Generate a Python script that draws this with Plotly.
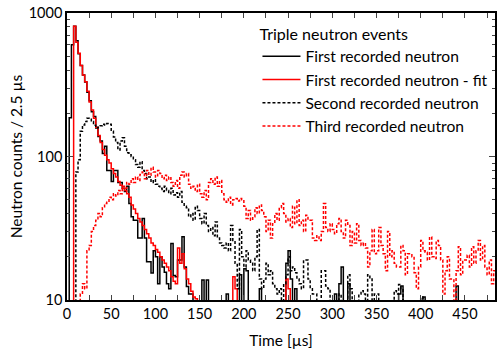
import plotly.graph_objects as go

BIN = 2.5

first_neutron = [
    1, 186, 600, 810, 640, 520, 430, 370, 330, 280,
    245, 205, 190, 158, 138, 128, 105, 118, 80, 80,
    67, 80, 80, 66, 66, 60, 57, 62, 47, 38,
    36, 36, 27, 27, 37, 27, 18.5, 18.5, 15.4, 22,
    20, 13, 20, 17, 15.6, 13, 12, 24.8, 14.8, 14.5,
    19, 19, 27.6, 17, 12.4, 11, 11, 1, 1, 1,
    1, 13.8, 1, 13.8, 1, 1, 1, 1, 1, 1,
    1, 1, 11, 1, 1, 1, 1, 1, 15, 1,
    16.5, 16, 1, 1, 1, 1, 1, 12, 1, 1,
    1, 1, 1, 1, 1, 1, 1, 1, 1, 18,
    22, 14, 1, 12, 1, 1, 1, 1, 1, 1,
    1, 1, 1, 1, 1, 1, 1, 1, 1, 1,
    1, 11, 1, 13, 17, 1, 1, 13, 1, 1,
    1, 1, 1, 1, 1, 1, 1, 1, 1, 1,
    1, 1, 1, 1, 1, 1, 1, 1, 1, 1,
    11, 12.5, 1, 1, 1, 1, 1, 1, 1, 1,
    1, 10.5, 1, 1, 1, 1, 1, 1, 1, 1,
    1, 1, 1, 1, 1, 1, 12.5, 1, 1, 1,
    1, 1, 1, 1, 1, 1, 1, 1, 1, 1,
    1, 1, 1, 1,
]

first_fit = [
    1, 1, 1, 810, 625, 524, 430, 370, 332, 285,
    240, 211, 185, 160, 140, 125, 112, 102, 95, 90,
    82, 76, 72, 67, 63, 60, 58, 55, 52, 46,
    43, 40, 37, 35, 33, 31, 29, 27, 25, 24,
    22.5, 21.5, 20, 19, 18, 17, 16, 14.5, 13.5, 13,
    23, 18, 21, 16.5, 14, 13, 11.5, 10.5, 10.2, 1,
    1, 1, 1, 1, 1, 1, 1, 1, 1, 1,
    1, 1, 1, 1, 1, 14.5, 12, 1, 1, 1,
    1, 1, 1, 1, 1, 1, 1, 1, 1, 1,
    1, 1, 1, 1, 1, 1, 1, 1, 1, 14,
    12, 1, 1, 1, 1, 1, 1, 1, 1, 1,
    1, 1, 1, 1, 1, 1, 1, 1, 1, 1,
    1, 1, 1, 1, 1, 1, 1, 1, 1, 1,
    1, 1, 1, 1, 1, 1, 1, 1, 1, 1,
    1, 1, 1, 1, 1, 1, 1, 1, 1, 1,
    1, 1, 1, 1, 1, 1, 1, 1, 1, 1,
    1, 1, 1, 1, 1, 1, 1, 1, 1, 1,
    1, 1, 1, 1, 1, 1, 1, 1, 1, 1,
    1, 1, 1, 1, 1, 1, 1, 1, 1, 1,
    1, 1, 1, 1,
]

second_neutron = [
    1, 1, 1, 1, 78, 95, 150, 166, 175, 185,
    182, 175, 165, 158, 160, 164, 168, 166, 170, 168,
    150, 137, 125, 111, 128, 135, 118, 106, 103, 100,
    95, 88, 84, 92, 80, 76, 70, 72, 66, 69,
    64, 62, 60, 57, 62, 58, 55, 60, 54, 56,
    52, 57, 48, 45, 44, 38, 40, 36, 45, 42,
    37, 34, 40, 33, 30, 32, 28, 35, 27, 25,
    24, 23, 25, 22, 33, 26, 18, 12, 31, 20,
    17, 22, 19, 18, 16, 20, 31, 14, 12, 14,
    18, 15, 16, 13, 12, 11, 12, 1, 13, 15,
    20, 16, 17, 15.5, 14, 13, 12, 19, 19, 14,
    12, 11, 11, 1, 1, 16, 16, 12.5, 12, 1,
    1, 1, 1, 11, 1, 1, 1, 15, 12, 1,
    1, 1, 11, 11.6, 11, 1, 15, 14, 1, 11,
    11, 1, 1, 1, 1, 1, 1, 1, 11.6, 11,
    12.8, 12, 1, 1, 1, 1, 1, 1, 1, 1,
    10.5, 1, 1, 1, 1, 1, 1, 1, 1, 1,
    1, 1, 1, 1, 1, 1, 1, 1, 1, 1,
    1, 1, 1, 1, 1, 1, 1, 1, 1, 1,
    1, 1, 1, 1,
]

third_neutron = [
    1, 1, 1, 1, 1, 1, 11, 13, 12, 22,
    24, 30, 33, 36, 40, 38, 44, 47, 48, 52,
    50, 55, 53, 58, 55, 62, 60, 66, 64, 70,
    66, 72, 68, 75, 78, 70, 80, 74, 84, 78,
    72, 80, 76, 70, 74, 68, 72, 66, 62, 68,
    60, 74, 78, 72, 76, 64, 60, 62, 57, 64,
    55, 52, 58, 50, 66, 70, 64, 72, 62, 68,
    55, 50, 48, 52, 46, 50, 51, 49, 51, 50,
    45, 37, 42, 36, 38, 44, 40, 46, 42, 38,
    30, 36, 27, 34, 40, 36, 44, 47, 40, 35,
    37, 32, 45, 34, 50, 33, 36, 30, 39, 36,
    36, 27, 26, 28, 26, 30, 47, 32, 30, 34,
    31, 29, 34, 37, 30, 27, 36, 33, 24, 30,
    25, 34, 26, 24, 25, 23, 17, 22, 31, 21,
    22, 32, 24, 21, 16, 30, 20, 22, 18, 17,
    17, 24, 22, 15, 21, 21, 20, 15.5, 12, 17,
    26, 22, 21.5, 19, 27.5, 20, 19.5, 26, 24, 19,
    11, 16, 20, 14, 14, 9, 16, 23.5, 15, 19,
    19, 20.5, 17, 23.5, 18, 22, 26, 19, 24, 17,
    15, 19, 13, 16,
]

def edges(values):
    xs = [i * BIN for i in range(len(values) + 1)]
    ys = list(values) + [values[-1]]
    return xs, ys

FONT = "Lato"
fig = go.Figure()

series = [
    ("First recorded neutron", first_neutron, "black", "solid"),
    ("First recorded neutron - fit", first_fit, "#ff0000", "solid"),
    ("Second recorded neutron", second_neutron, "black", "3px,2px"),
    ("Third recorded neutron", third_neutron, "#ff0000", "3px,2px"),
]
for name, vals, col, dash in series:
    xs, ys = edges(vals)
    fig.add_trace(go.Scatter(
        x=xs, y=ys, mode="lines", name=name, line_shape="hv",
        line=dict(color=col, width=1.5, dash=dash),
    ))

fig.update_layout(
    width=499, height=353,
    margin=dict(l=67, r=2, t=13, b=53),
    paper_bgcolor="white", plot_bgcolor="white",
    font=dict(family=FONT, size=16, color="black"),
    showlegend=True,
    legend=dict(
        title=dict(text="Triple neutron events", font=dict(size=16)),
        x=0.445, y=0.98, xanchor="left", yanchor="top",
        bgcolor="rgba(0,0,0,0)", borderwidth=0,
        traceorder="normal", itemwidth=38,
        font=dict(size=15.6),
    ),
    xaxis=dict(
        range=[0, 484], tick0=0, dtick=50,
        ticks="inside", ticklen=5, tickwidth=1,
        minor=dict(dtick=25, ticks="inside", ticklen=5, tickwidth=1),
        showline=True, linecolor="black", linewidth=1.5,
        mirror="allticks", showgrid=False, zeroline=False,
        tickfont=dict(size=14.5),
        title=dict(text="Time [µs]", font=dict(size=15.5), standoff=14),
    ),
    yaxis=dict(
        type="log", range=[1, 3],
        tickvals=[10, 100, 1000], ticktext=["10", "100", "1000"],
        ticks="inside", ticklen=6, tickwidth=1,
        minor=dict(ticks="inside", ticklen=3, tickwidth=1, dtick="D1"),
        showline=True, linecolor="black", linewidth=1.5,
        mirror="allticks", showgrid=False, zeroline=False,
        tickfont=dict(size=14.5),
        title=dict(text="Neutron counts / 2.5 µs", font=dict(size=15.5), standoff=2),
    ),
)

fig.write_html("out.html")
